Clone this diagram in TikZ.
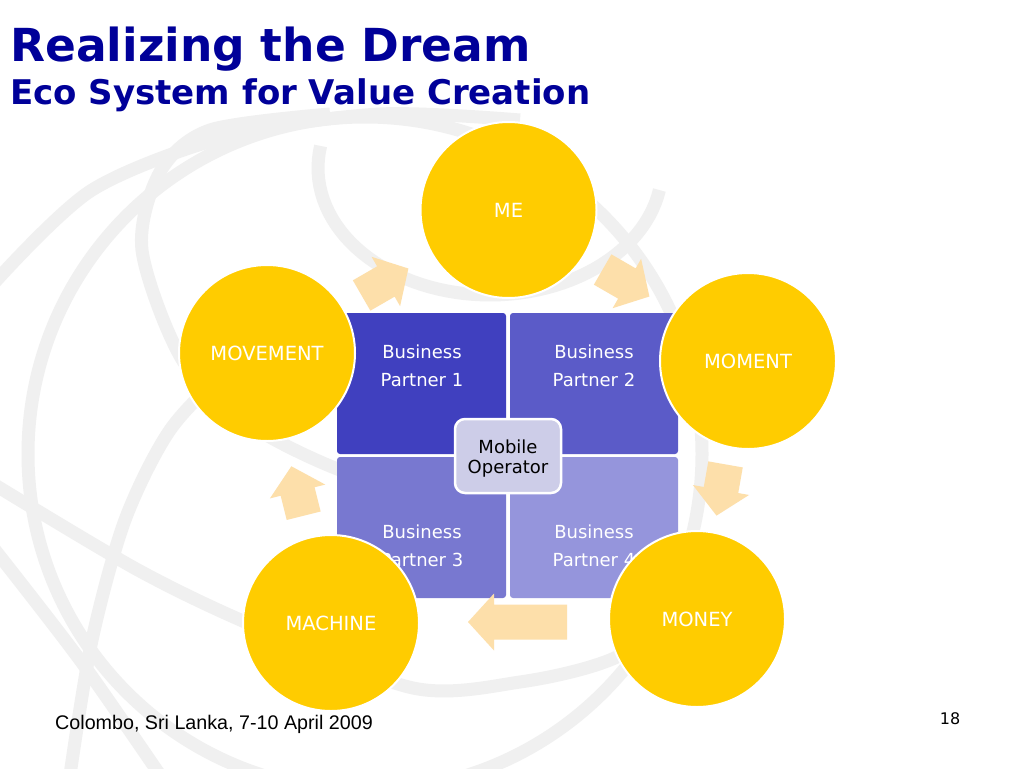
\documentclass[tikz,border=0pt]{standalone}
\usepackage{fontspec}
\setmainfont{DejaVu Sans}
\newfontfamily\arialfont{Liberation Sans}
\definecolor{titleblue}{RGB}{0,0,153}
\definecolor{ringgray}{RGB}{240,240,240}
\definecolor{gold}{RGB}{255,204,0}
\definecolor{peach}{RGB}{253,223,170}
\definecolor{qa}{RGB}{64,64,191}
\definecolor{qb}{RGB}{91,91,200}
\definecolor{qc}{RGB}{120,120,208}
\definecolor{qd}{RGB}{149,149,220}
\definecolor{opfill}{RGB}{205,205,232}
\tikzset{
  pics/cyclearrow/.style={code={
    \fill[peach] ({-#1/2},-17.5) -- ({#1/2-26},-17.5) -- ({#1/2-26},-28.5) -- ({#1/2},0)
      -- ({#1/2-26},28.5) -- ({#1/2-26},17.5) -- ({-#1/2},17.5) -- cycle;
  }}
}
\begin{document}
\begin{tikzpicture}[x=1pt,y=-1pt,
  ring/.style={draw=ringgray, line width=13pt},
  goldcircle/.style={circle, fill=gold, draw=white, line width=2pt, minimum size=176pt,
    inner sep=0pt, text=white, font=\fontsize{19.5}{22}\selectfont},
  quad/.style={rectangle, rounded corners=3pt, inner sep=0pt, minimum height=141pt},
  bptext/.style={align=center, text=white, font=\fontsize{18}{28}\selectfont, inner sep=0pt},
  opbox/.style={rectangle, rounded corners=10pt, fill=opfill, draw=white, line width=2.5pt,
    minimum width=106pt, minimum height=74pt, inner sep=0pt},
  optext/.style={align=center, font=\fontsize{18}{20}\selectfont, inner sep=0pt},
  titletext/.style={anchor=base west, inner sep=0pt, text=titleblue}
]
\useasboundingbox (0,0) rectangle (1024,768);
\fill[white] (0,0) rectangle (1024,768);

% background globe pattern
\begin{scope}
\clip (0,0) rectangle (1024,768);
\draw[ring] (365,454) circle[radius=337];
\draw[ring] plot[domain=10:190, samples=60] ({490+172*cos(\x)},{168+127*sin(\x)});
\draw[ring] plot[smooth] coordinates {(-5,282) (92,190) (229,136) (380,114) (520,120)};
\draw[ring] plot[smooth] coordinates {(330,114) (210,130) (160,172) (142,250) (183,361) (252,426) (340,470) (420,490)};
\draw[ring] plot[smooth] coordinates {(70,775) (92,640) (125,520) (170,430) (230,368) (290,325)};
\draw[ring] plot[smooth] coordinates {(-5,485) (138,570) (252,625) (413,688) (520,682) (610,660) (700,610)};
\draw[ring] plot[smooth] coordinates {(-5,550) (80,660) (160,775)};
\end{scope}

% titles
\node[titletext, font=\bfseries\fontsize{45.5}{50}\selectfont] (title) at (10,62) {Realizing the Dream};
\node[titletext, font=\bfseries\fontsize{34}{38}\selectfont] (subtitle) at (10,104) {Eco System for Value Creation};

% matrix
\node[quad, fill=qa, minimum width=169pt] (q1) at (421.5,383.5) {};
\node[quad, fill=qb, minimum width=168pt] (q2) at (594,383.5) {};
\node[quad, fill=qc, minimum width=169pt] (q3) at (421.5,527.5) {};
\node[quad, fill=qd, minimum width=168pt] (q4) at (594,527.5) {};
\node[bptext] (t1) at (422,366) {Business\\Partner 1};
\node[bptext] (t2) at (594,366) {Business\\Partner 2};
\node[bptext] (t3) at (422,546) {Business\\Partner 3};
\node[bptext] (t4) at (594,546) {Business\\Partner 4};
\node[opbox] (mo) at (508,456) {};
\node[optext] (motext) at (508,459) {Mobile\\Operator};

% cycle arrows
\pic[rotate=30] (a1) at (385,282) {cyclearrow=54};
\pic[rotate=-30] (a2) at (626,283) {cyclearrow=54};
\pic[rotate=-100] (a3) at (721,490) {cyclearrow=52};
\pic[rotate=180] (a4) at (517.5,622) {cyclearrow=99};
\pic[rotate=104] (a5) at (297.5,491) {cyclearrow=51};

% circles
\node[goldcircle] (me) at (508.5,210) {ME};
\node[goldcircle] (moment) at (748,361) {MOMENT};
\node[goldcircle] (money) at (697,619) {MONEY};
\node[goldcircle] (machine) at (331,623) {MACHINE};
\node[goldcircle] (movement) at (267,353) {MOVEMENT};

% footer
\node[anchor=base west, inner sep=0pt, font=\arialfont\fontsize{19.7}{22}\selectfont] (foot) at (55,729) {Colombo, Sri Lanka, 7-10 April 2009};
\node[anchor=base, inner sep=0pt, font=\fontsize{16}{18}\selectfont] (page) at (950,724) {18};
\end{tikzpicture}
\end{document}
